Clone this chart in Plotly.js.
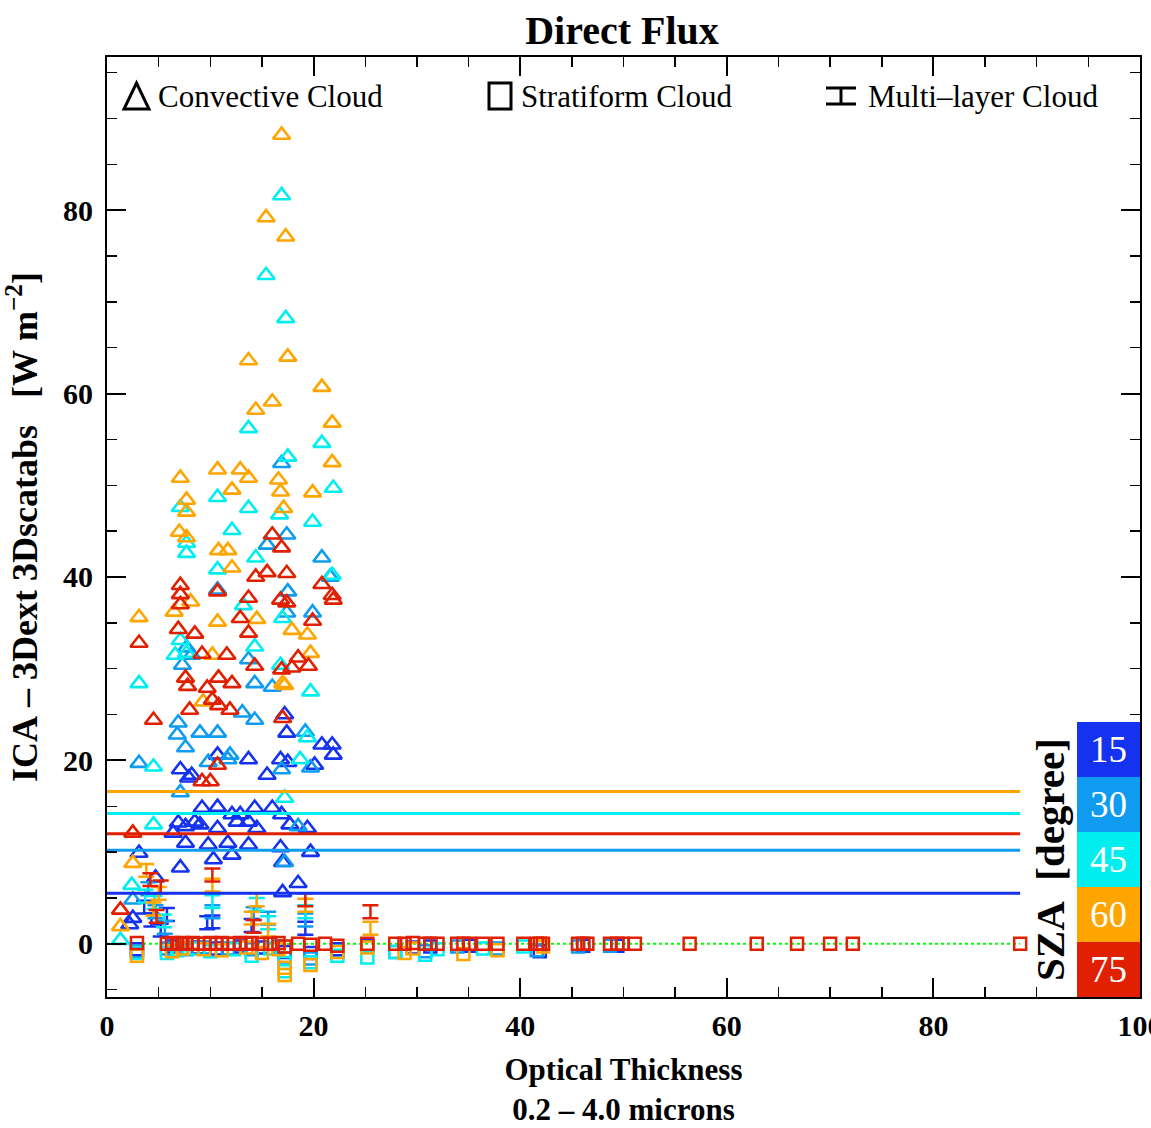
<!DOCTYPE html>
<html>
<head>
<meta charset="utf-8">
<script src="https://cdn.plot.ly/plotly-3.0.1.min.js"></script>
<style>
  html, body { margin: 0; padding: 0; background: #ffffff; }
  #chart { width: 1151px; height: 1128px; }
</style>
</head>
<body>
<div id="chart"></div>
<script>
// Solar zenith angle classes and their colours
const szaLabels = ['15', '30', '45', '60', '75'];
const szaColors = ['#1432f0', '#0f9cf0', '#00eef0', '#ffa500', '#e02000'];

// Convective cloud: optical thickness (x) and ICA − 3D flux difference (y)
const conv15X = [17.4, 20.8, 21.8, 21.9, 7.1, 7.9, 8.2, 10.7, 13.7, 15.5, 16.8, 17.5, 20.1, 9.2, 10.7, 12.1, 12.9, 14.3, 16.0, 16.9, 6.9, 7.6, 8.5, 9.0, 10.7, 12.6, 13.7, 14.5, 17.7, 19.4, 6.4, 7.6, 9.8, 11.7, 13.7, 16.8, 19.7, 3.1, 10.3, 12.1, 17.0, 7.1, 18.5, 17.0, 4.7, 2.5, 2.2, 17.2];
const conv15Y = [23.0, 21.7, 21.7, 20.6, 19.0, 18.1, 18.4, 20.6, 20.1, 18.4, 20.1, 19.8, 19.5, 14.8, 14.9, 14.1, 14.1, 14.8, 14.8, 14.1, 13.2, 12.8, 13.3, 13.0, 12.6, 13.3, 13.3, 12.6, 13.0, 12.6, 12.1, 11.0, 10.8, 11.0, 10.8, 10.5, 10.0, 9.9, 9.2, 9.7, 8.9, 8.3, 6.6, 5.6, 7.2, 2.8, 2.1, 25.0];

const conv30X = [16.9, 15.5, 17.4, 20.8, 21.6, 17.4, 19.9, 17.5, 10.7, 7.7, 13.7, 14.3, 16.0, 13.1, 14.3, 6.9, 19.2, 6.8, 9.0, 10.7, 7.6, 3.1, 9.8, 11.9, 11.7, 16.9, 19.7, 7.1, 18.5, 17.2, 2.5, 8.2, 7.3];
const conv30Y = [52.4, 43.5, 44.6, 42.1, 40.0, 36.1, 36.1, 38.4, 38.6, 32.3, 31.0, 28.4, 28.0, 25.2, 24.4, 24.1, 23.1, 22.8, 23.0, 23.0, 21.4, 19.7, 19.8, 20.6, 20.1, 19.0, 19.2, 16.5, 12.8, 8.9, 4.8, 31.5, 30.4];

const conv45X = [16.9, 15.4, 17.3, 13.7, 20.8, 17.5, 21.9, 10.7, 7.1, 13.7, 16.7, 19.9, 12.1, 7.7, 7.7, 14.4, 10.7, 21.8, 13.2, 17.0, 6.6, 14.3, 16.8, 3.1, 19.7, 4.5, 19.4, 18.7, 17.2, 4.5, 2.4, 1.3, 7.7, 7.1];
const conv45Y = [81.6, 72.9, 68.2, 56.2, 54.6, 53.1, 49.7, 48.7, 47.6, 47.5, 46.8, 46.0, 45.1, 43.7, 42.6, 42.1, 40.8, 40.2, 36.9, 35.5, 31.5, 32.4, 30.4, 28.4, 27.5, 19.3, 22.5, 20.1, 15.9, 13.0, 6.4, 0.4, 31.7, 33.1];

const conv60X = [16.9, 15.4, 17.3, 13.7, 17.5, 20.8, 16.0, 14.4, 21.8, 21.8, 7.1, 10.7, 12.9, 13.7, 16.6, 12.1, 16.8, 19.9, 7.7, 7.7, 17.1, 7.0, 7.7, 10.8, 11.7, 12.1, 8.1, 3.1, 6.5, 10.7, 14.5, 17.9, 19.4, 10.2, 19.7, 17.0, 9.3, 2.5, 1.3, 17.2];
const conv60Y = [88.2, 79.2, 77.1, 63.6, 64.0, 60.7, 59.1, 58.2, 56.8, 52.5, 50.8, 51.7, 51.7, 50.8, 50.6, 49.5, 49.3, 49.2, 48.4, 47.1, 47.5, 44.9, 44.3, 42.9, 42.9, 41.0, 37.3, 35.6, 36.2, 35.1, 35.4, 34.2, 33.7, 31.5, 31.7, 28.4, 26.4, 8.8, 1.9, 28.2];

const conv75X = [16.0, 16.9, 14.4, 15.5, 17.4, 20.8, 21.8, 21.9, 7.1, 10.7, 13.7, 16.8, 17.4, 6.9, 8.5, 12.9, 13.7, 19.9, 3.1, 9.2, 11.6, 14.3, 18.5, 19.5, 16.9, 17.9, 7.6, 7.8, 9.7, 10.8, 12.1, 4.5, 8.0, 10.2, 10.8, 11.9, 17.0, 9.2, 10.0, 10.7, 2.5, 1.3, 7.1, 7.1];
const conv75Y = [44.6, 43.2, 40.0, 40.5, 40.4, 39.2, 38.0, 37.5, 38.1, 38.4, 37.7, 37.5, 37.2, 34.3, 33.8, 35.5, 33.9, 35.2, 32.8, 31.6, 31.5, 30.3, 31.2, 30.3, 29.9, 30.1, 29.0, 28.1, 27.9, 29.0, 28.4, 24.4, 25.5, 26.6, 26.0, 25.5, 24.6, 17.7, 17.7, 19.5, 12.1, 3.7, 39.1, 37.0];

// Stratiform cloud
const strat15X = [2.9, 6.3, 8.8, 10.6, 12.9, 15.0, 17.2, 19.7, 22.3, 25.2, 29.6, 31.3, 35.1, 41.9, 46.1, 49.4];
const strat15Y = [-0.6, -0.3, -0.4, -0.5, -0.3, -0.4, -0.9, -1.0, -0.6, -0.2, -0.4, -0.3, -0.2, -0.8, -0.2, -0.2];
const strat30X = [2.9, 5.8, 7.7, 9.4, 11.7, 14.0, 16.6, 17.2, 19.7, 22.3, 27.9, 30.8, 33.9, 37.8, 41.6, 45.6, 48.7];
const strat30Y = [-0.8, -0.5, -0.6, -0.4, -0.5, -0.6, -0.3, -1.6, -1.6, -0.8, -0.9, -0.8, -0.3, -0.5, -0.7, -0.3, -0.2];
const strat45X = [2.9, 5.8, 6.8, 8.3, 10.0, 12.3, 14.0, 15.8, 17.2, 17.2, 19.7, 22.3, 25.2, 27.9, 30.8, 32.0, 36.4, 40.3];
const strat45Y = [-1.0, -1.0, -0.7, -0.5, -0.8, -0.6, -1.3, -0.5, -2.1, -3.0, -2.0, -1.3, -1.5, -0.9, -1.2, -0.6, -0.5, -0.3];
const strat60X = [2.9, 6.3, 7.3, 9.4, 11.1, 13.5, 15.0, 16.6, 17.2, 17.2, 19.7, 22.3, 25.2, 28.8, 29.6, 34.5, 37.8, 42.2];
const strat60Y = [-1.3, -0.8, -0.5, -0.6, -0.7, -0.4, -1.0, -0.6, -2.6, -3.4, -2.3, -0.9, -0.4, -1.0, -0.5, -1.1, -0.7, -0.3];
const strat75X = [2.9, 5.8, 6.3, 6.8, 7.3, 7.7, 8.3, 8.8, 9.4, 10.0, 10.6, 11.1, 11.7, 12.3, 12.9, 13.5, 14.0, 15.0, 15.8, 16.6, 17.2, 18.5, 19.7, 21.1, 22.3, 25.2, 27.9, 28.8, 29.6, 30.8, 31.3, 32.0, 33.9, 34.5, 35.1, 36.4, 37.8, 40.3, 41.6, 41.9, 42.2, 45.6, 46.1, 46.5, 48.7, 49.4, 49.9, 51.1, 56.4, 62.9, 66.8, 70.0, 72.2, 88.4];
const strat75Y = [0.1, 0.0, 0.1, 0.0, 0.1, 0.0, 0.1, 0.0, 0.0, 0.1, 0.0, 0.1, 0.0, 0.0, 0.1, 0.0, 0.1, 0.0, 0.0, 0.1, -0.3, 0.0, -0.1, 0.0, -0.2, 0.0, 0.0, 0.0, 0.1, 0.0, 0.0, 0.0, 0.0, 0.0, 0.0, 0.0, 0.0, 0.0, 0.0, 0.0, 0.0, 0.0, 0.0, 0.0, 0.0, 0.0, 0.0, 0.0, 0.0, 0.0, 0.0, 0.0, 0.0, 0.0];

// Multi-layer cloud
const multi15X = [10.2, 19.2, 3.6, 4.3, 5.2, 14.0, 5.8, 9.7];
const multi15Y = [2.4, 1.7, 4.0, 2.6, 1.5, 2.0, 3.2, 2.3];
const multi30X = [10.2, 19.2, 4.0, 4.7, 5.6, 15.6, 14.2];
const multi30Y = [3.5, 2.6, 6.0, 3.5, 1.8, 2.8, 3.3];
const multi45X = [10.2, 19.2, 4.6, 5.5, 3.7, 15.6, 14.5];
const multi45Y = [4.6, 3.5, 4.5, 2.5, 5.2, 2.3, 4.3];
const multi60X = [10.2, 19.2, 3.8, 5.0, 4.5, 14.5, 15.6, 14.0, 25.5];
const multi60Y = [6.4, 4.2, 8.0, 5.5, 3.8, 4.8, 1.5, 2.8, 1.7];
const multi75X = [10.2, 19.2, 4.2, 5.2, 4.8, 14.2, 25.5];
const multi75Y = [7.5, 4.8, 7.0, 6.2, 3.0, 1.9, 3.5];

// Mean flux difference per SZA class
const meanDiff = [5.5, 10.2, 14.2, 16.6, 12.0];

const convX = [conv15X, conv30X, conv45X, conv60X, conv75X];
const convY = [conv15Y, conv30Y, conv45Y, conv60Y, conv75Y];
const stratX = [strat15X, strat30X, strat45X, strat60X, strat75X];
const stratY = [strat15Y, strat30Y, strat45Y, strat60Y, strat75Y];
const multiX = [multi15X, multi30X, multi45X, multi60X, multi75X];
const multiY = [multi15Y, multi30Y, multi45Y, multi60Y, multi75Y];

const FONT = 'Liberation Serif, Times New Roman, serif';
const NB = '\u00A0';

// longest optical thickness in the sample: reference lines end there
const tauMax = Math.max(...[].concat(...convX, ...stratX, ...multiX));

const traces = [];

// zero reference
traces.push({
  x: [0, tauMax], y: [0, 0], mode: 'lines', type: 'scatter',
  line: { color: '#00ff00', width: 2, dash: 'dot' }, hoverinfo: 'skip', showlegend: false
});

for (let i = 0; i < szaLabels.length; i++) {
  const c = szaColors[i];
  traces.push({
    x: stratX[i], y: stratY[i], type: 'scatter', mode: 'markers', showlegend: false,
    name: 'Stratiform ' + szaLabels[i],
    marker: { symbol: 'square-open', size: 12, color: c, line: { width: 2.5, color: c } }
  });
  traces.push({
    x: multiX[i], y: multiY[i], type: 'scatter', mode: 'markers', showlegend: false,
    name: 'Multi-layer ' + szaLabels[i],
    marker: { symbol: 'line-ew', size: 1, opacity: 0, color: c },
    error_y: { type: 'constant', value: 0.7, width: 8, thickness: 2.5, color: c }
  });
  traces.push({
    x: convX[i], y: convY[i], type: 'scatter', mode: 'markers', showlegend: false,
    name: 'Convective ' + szaLabels[i],
    marker: { symbol: 'triangle-up-open', size: 15, color: c, line: { width: 2.6, color: c } }
  });
}

// mean lines
for (let i = 0; i < szaLabels.length; i++) {
  traces.push({
    x: [0, tauMax], y: [meanDiff[i], meanDiff[i]], type: 'scatter', mode: 'lines',
    line: { color: szaColors[i], width: 3 }, hoverinfo: 'skip', showlegend: false
  });
}

// plot-area geometry in pixels (for the key drawn in paper units)
const W = 1151, H = 1128;
const M = { l: 107, r: 11, t: 57, b: 131 };
const pw = W - M.l - M.r, ph = H - M.t - M.b;
const px = v => (v - M.l) / pw;
const py = v => (H - M.b - v) / ph;

const shapes = [];
const annotations = [];

// SZA colour key
const keyH = 55 / ph;
for (let i = 0; i < szaLabels.length; i++) {
  const j = szaLabels.length - 1 - i;   // 75 at the bottom
  shapes.push({
    type: 'rect', xref: 'paper', yref: 'paper',
    x0: px(1077), x1: 1, y0: j * keyH, y1: (j + 1) * keyH,
    fillcolor: szaColors[i], line: { width: 0 }, layer: 'above'
  });
  annotations.push({
    xref: 'paper', yref: 'paper', x: (px(1077) + 1) / 2, y: (j + 0.5) * keyH,
    text: szaLabels[i], showarrow: false, xanchor: 'center', yanchor: 'middle',
    font: { family: FONT, size: 37, color: '#ffffff' }
  });
}
annotations.push({
  xref: 'paper', yref: 'paper', x: px(1050), y: py(860),
  text: 'SZA' + NB + NB + '[degree]', showarrow: false, textangle: -90,
  xanchor: 'center', yanchor: 'middle',
  font: { family: FONT, size: 41, color: '#000000', weight: 'bold' }
});

// cloud-type key
shapes.push({
  type: 'path', xref: 'paper', yref: 'paper',
  path: `M ${px(124)},${py(109)} L ${px(149)},${py(109)} L ${px(136.5)},${py(83)} Z`,
  line: { color: '#000', width: 3 }
});
shapes.push({
  type: 'rect', xref: 'paper', yref: 'paper',
  x0: px(489), x1: px(511), y0: py(109), y1: py(83),
  line: { color: '#000', width: 3 }
});
shapes.push({ type: 'line', xref: 'paper', yref: 'paper', x0: px(826), x1: px(856), y0: py(88), y1: py(88), line: { color: '#000', width: 3 } });
shapes.push({ type: 'line', xref: 'paper', yref: 'paper', x0: px(826), x1: px(856), y0: py(104), y1: py(104), line: { color: '#000', width: 3 } });
shapes.push({ type: 'line', xref: 'paper', yref: 'paper', x0: px(841), x1: px(841), y0: py(88), y1: py(104), line: { color: '#000', width: 3 } });

const keyFont = { family: FONT, size: 31, color: '#000' };
annotations.push({ xref: 'paper', yref: 'paper', x: px(156), y: py(96), text: 'Convective Cloud', showarrow: false, xanchor: 'left', yanchor: 'middle', font: keyFont });
annotations.push({ xref: 'paper', yref: 'paper', x: px(519), y: py(96), text: 'Stratiform Cloud', showarrow: false, xanchor: 'left', yanchor: 'middle', font: keyFont });
annotations.push({ xref: 'paper', yref: 'paper', x: px(866), y: py(96), text: 'Multi–layer Cloud', showarrow: false, xanchor: 'left', yanchor: 'middle', font: keyFont });

const axisCommon = {
  showgrid: false, zeroline: false,
  showline: true, linecolor: '#000', linewidth: 2, mirror: 'allticks',
  ticks: 'inside', ticklen: 19, tickwidth: 2, tickcolor: '#000',
  minor: { ticks: 'inside', ticklen: 10, tickwidth: 1.5, tickcolor: '#000' },
  tickfont: { family: FONT, size: 30, color: '#000', weight: 'bold' },
  ticklabeloverflow: 'allow',
  tick0: 0, dtick: 20
};

const layout = {
  width: W, height: H,
  margin: M,
  paper_bgcolor: '#ffffff', plot_bgcolor: '#ffffff',
  showlegend: false,
  title: {
    text: 'Direct Flux', x: px(622), xref: 'paper', xanchor: 'center',
    y: 1 - 30 / H, yref: 'container', yanchor: 'middle',
    font: { family: FONT, size: 40, color: '#000', weight: 'bold' }
  },
  xaxis: Object.assign({}, axisCommon, {
    range: [0, 100],
    minor: Object.assign({}, axisCommon.minor, { dtick: 5 }),
    ticklabelstandoff: 1,
    title: { text: 'Optical Thickness<br>0.2 – 4.0 microns', standoff: 17,
      font: { family: FONT, size: 31, color: '#000', weight: 'bold' } }
  }),
  yaxis: Object.assign({}, axisCommon, {
    range: [-5.8, 96.7],
    minor: Object.assign({}, axisCommon.minor, { dtick: 5 }),
    ticklabelstandoff: 6,
    title: { text: 'ICA' + NB + '–' + NB + '3Dext' + NB + '3Dscatabs' + NB + NB + NB + '[W' + NB + 'm<sup>−2</sup>]', standoff: 16,
      font: { family: FONT, size: 36, color: '#000', weight: 'bold' } }
  }),
  shapes: shapes,
  annotations: annotations
};

Plotly.newPlot('chart', traces, layout, { displayModeBar: false, staticPlot: true });
</script>
</body>
</html>
